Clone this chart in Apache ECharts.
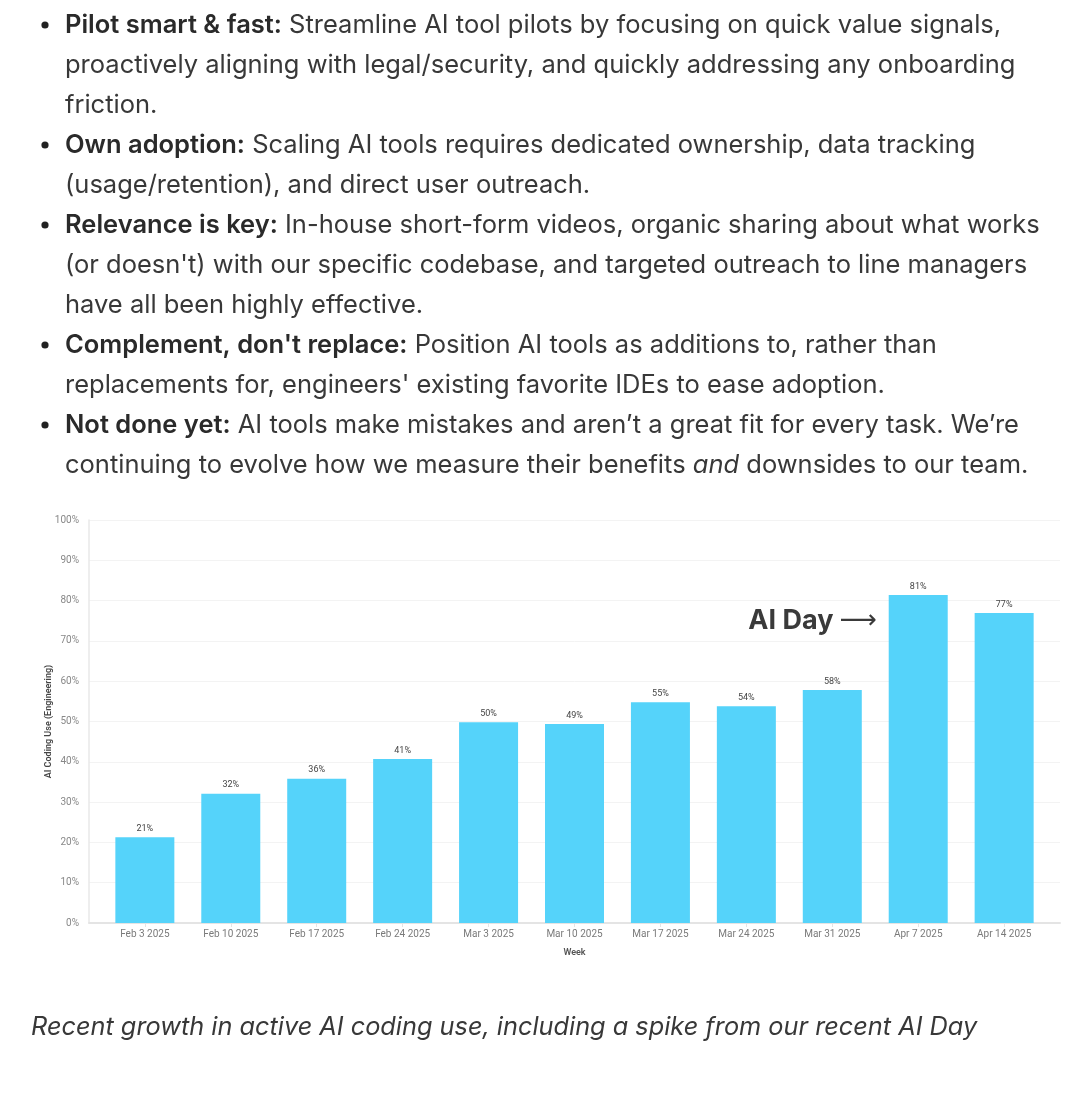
<!DOCTYPE html>
<html>
<head>
<meta charset="utf-8">
<script src="https://cdn.jsdelivr.net/npm/echarts@6/dist/echarts.min.js"></script>
<style>
  html, body { margin: 0; padding: 0; background: #ffffff; }
  #chart { width: 1080px; height: 1102px; }
</style>
</head>
<body>
<div id="chart"></div>
<script>
// ---- data ----
const categories = ['Feb 3 2025', 'Feb 10 2025', 'Feb 17 2025', 'Feb 24 2025', 'Mar 3 2025', 'Mar 10 2025',
                    'Mar 17 2025', 'Mar 24 2025', 'Mar 31 2025', 'Apr 7 2025', 'Apr 14 2025'];
const usageValues = [21.3, 32.1, 35.8, 40.7, 49.8, 49.4, 54.8, 53.8, 57.8, 81.4, 76.9];
const yTickValues = [0, 10, 20, 30, 40, 50, 60, 70, 80, 90, 100];
const yAxisTitle = 'AI Coding Use (Engineering)';
const xAxisTitle = 'Week';
const annotationText = 'AI Day';
const annotationAt = [7.77, 74.9];
const bulletLines = [
  { bullet: true,  text: '{b|Pilot smart & fast:} Streamline AI tool pilots by focusing on quick value signals,' },
  { bullet: false, text: 'proactively aligning with legal/security, and quickly addressing any onboarding' },
  { bullet: false, text: 'friction.' },
  { bullet: true,  text: '{b|Own adoption:} Scaling AI tools requires dedicated ownership, data tracking' },
  { bullet: false, text: '(usage/retention), and direct user outreach.' },
  { bullet: true,  text: '{b|Relevance is key:} In-house short-form videos, organic sharing about what works' },
  { bullet: false, text: "(or doesn't) with our specific codebase, and targeted outreach to line managers" },
  { bullet: false, text: 'have all been highly effective.' },
  { bullet: true,  text: "{b|Complement, don't replace:} Position AI tools as additions to, rather than" },
  { bullet: false, text: "replacements for, engineers' existing favorite IDEs to ease adoption." },
  { bullet: true,  text: '{b|Not done yet:} AI tools make mistakes and aren\u2019t a great fit for every task. We\u2019re' },
  { bullet: false, text: 'continuing to evolve how we measure their benefits {i|and} downsides to our team.' }
];
const captionText = 'Recent growth in active AI coding use, including a spike from our recent AI Day';

// ---- chart ----
const chart = echarts.init(document.getElementById('chart'), null, { renderer: 'canvas' });
const bodyFont = 'Inter, "Liberation Sans", sans-serif';
const chartFont = 'Roboto, "Liberation Sans", sans-serif';
const textColor = '#383838';
const bodySize = 25.5;

const graphics = [];
bulletLines.forEach((ln, i) => {
  const y = 25 + i * 40;
  if (ln.bullet) {
    graphics.push({ type: 'circle', shape: { cx: 45, cy: y, r: 3.6 }, style: { fill: '#222' } });
  }
  graphics.push({
    type: 'text',
    style: {
      x: 65, y: y, text: ln.text, fill: textColor,
      font: bodySize + 'px ' + bodyFont, verticalAlign: 'middle',
      rich: {
        b: { fontFamily: bodyFont, fontSize: bodySize, fontWeight: 600, fill: '#2a2a2a' },
        i: { fontFamily: bodyFont, fontSize: bodySize, fontStyle: 'italic', fill: textColor }
      }
    }
  });
});
graphics.push({
  type: 'text',
  style: { x: 31, y: 1027, text: captionText, fill: textColor, font: 'italic 25.3px ' + bodyFont, verticalAlign: 'middle' }
});

chart.setOption({
  animation: false,
  textStyle: { fontFamily: chartFont },
  grid: { left: 89, right: 20, top: 520, bottom: 179, containLabel: false },
  xAxis: {
    type: 'value', min: -0.65, max: 10.65,
    name: xAxisTitle, nameLocation: 'middle', nameGap: 25, nameMoveOverlap: false,
    nameTextStyle: { fontSize: 9, fontWeight: 600, color: '#555' },
    axisLine: { show: true, onZero: false, lineStyle: { color: '#e4e4e4', width: 2 } },
    axisTick: { show: true, customValues: categories.map((c, i) => i), length: 4, lineStyle: { color: '#e4e4e4' } },
    axisLabel: { customValues: categories.map((c, i) => i), formatter: v => categories[Math.round(v)] || '', fontSize: 10, color: '#7a7a7a', margin: 6 },
    splitLine: { show: false }
  },
  yAxis: {
    type: 'value', min: 0, max: 100, interval: 10,
    name: yAxisTitle, nameLocation: 'middle', nameGap: 36, nameRotate: 90, nameMoveOverlap: false,
    nameTextStyle: { fontSize: 9, fontWeight: 600, color: '#444' },
    axisLine: { show: true, onZero: false, lineStyle: { color: '#e8e8e8', width: 1.5 } },
    axisTick: { show: false },
    axisLabel: { formatter: '{value}%', fontSize: 10, color: '#888', margin: 10 },
    splitLine: { show: true, lineStyle: { color: '#f3f3f3', width: 1 } }
  },
  series: [{
    type: 'bar',
    data: usageValues.map((v, i) => [i, v]),
    barWidth: 59,
    itemStyle: { color: '#55d3fa' },
    label: {
      show: true, position: 'top', distance: 4,
      formatter: p => Math.round(p.value[1]) + '%',
      fontSize: 9, color: '#444'
    },
    markPoint: {
      symbol: 'circle', symbolSize: 0, silent: true,
      data: [{ coord: annotationAt }],
      label: {
        show: true, position: 'inside',
        formatter: '{a|' + annotationText + '}  {r|\u27F6}',
        rich: {
          a: { fontFamily: 'Inter, Roboto, sans-serif', fontSize: 27, fontWeight: 'bold', color: '#3a3a3a' },
          r: { fontFamily: '"DejaVu Sans", sans-serif', fontSize: 26, color: '#3a3a3a' }
        }
      }
    }
  }],
  graphic: graphics
});
</script>
</body>
</html>
